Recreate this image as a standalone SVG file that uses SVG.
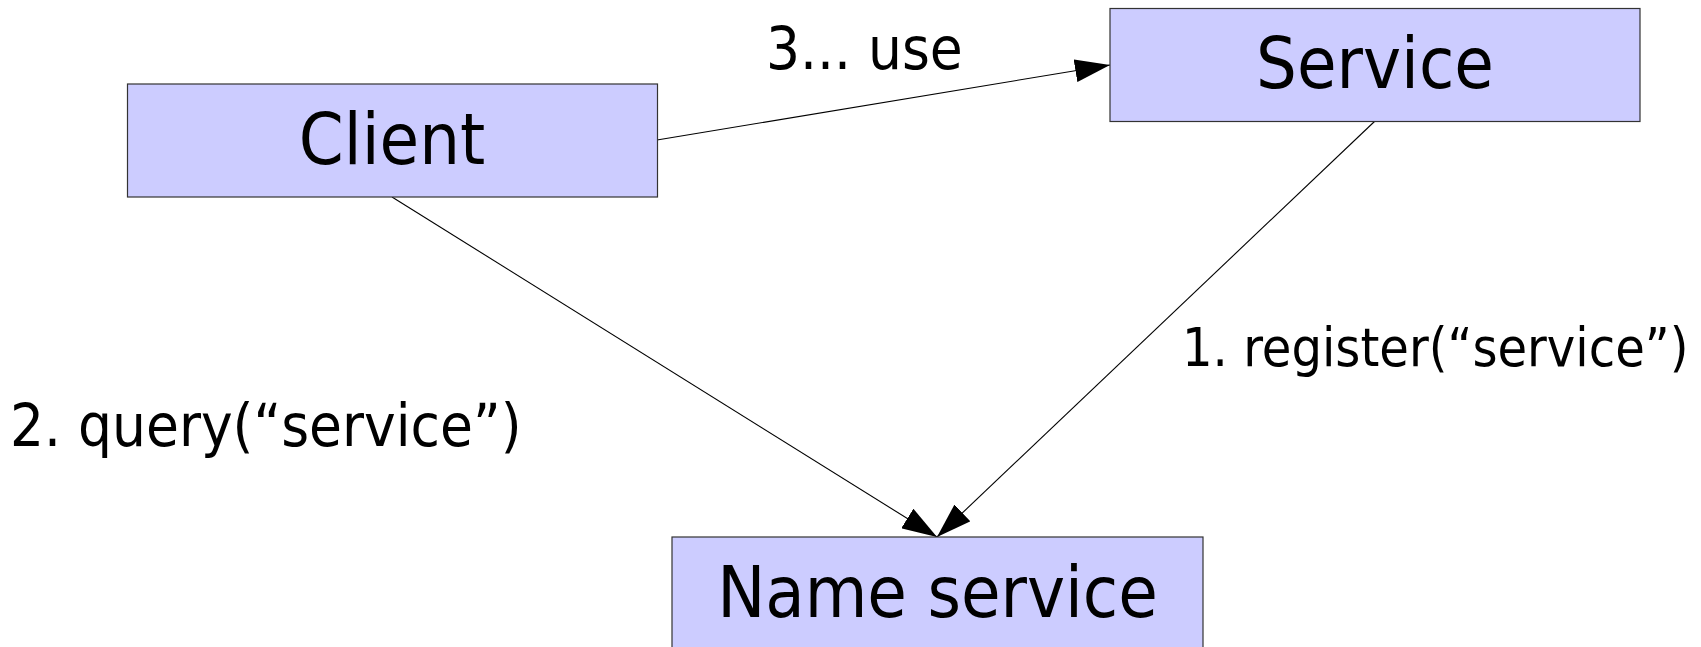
<svg xmlns="http://www.w3.org/2000/svg" width="1701" height="647" viewBox="0 0 1701 647">
<style>
.box{fill:#ccccff;stroke:#333333;stroke-width:1.2}
.t{font-family:"DejaVu Sans Condensed","DejaVu Sans",sans-serif;font-stretch:condensed;fill:#000000}
.bt{font-size:71.5px;text-anchor:middle}
.lbl{font-size:59.5px}
.conn{stroke:#000000;stroke-width:1.1;fill:none;marker-end:url(#arr)}
</style>
<defs>
<marker id="arr" viewBox="0 0 35 23" refX="35" refY="11.5" markerWidth="35" markerHeight="23" markerUnits="userSpaceOnUse" orient="auto">
<path d="M0,0 L35,11.5 L0,23 z" fill="#000000"/>
</marker>
</defs>
<g id="connectors">
<line class="conn" x1="657" y1="140" x2="1110" y2="65"/>
<line class="conn" x1="392" y1="197" x2="937" y2="537"/>
<line class="conn" x1="1375" y1="121" x2="937" y2="537"/>
</g>
<g id="client">
<rect class="box" x="127.5" y="84" width="530" height="113"/>
<text class="t bt" x="392" y="164">Client</text>
</g>
<g id="service">
<rect class="box" x="1110" y="8.5" width="530" height="113"/>
<text class="t bt" x="1375" y="88">Service</text>
</g>
<g id="name-service">
<rect class="box" x="672" y="537" width="531" height="113"/>
<text class="t bt" x="937.5" y="617">Name service</text>
</g>
<g id="labels">
<text class="t lbl" x="766" y="69">3... use</text>
<text class="t lbl" x="10" y="446">2. query(“service”)</text>
<text class="t lbl" x="1182" y="366" style="font-size:53.5px">1. register(“service”)</text>
</g>
</svg>
